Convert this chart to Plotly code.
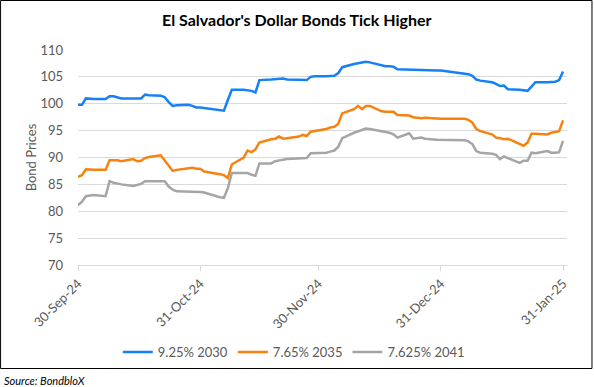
import plotly.graph_objects as go

dates = [
    "2024-09-30", "2024-10-01", "2024-10-02", "2024-10-03", "2024-10-04",
    "2024-10-07", "2024-10-08", "2024-10-09", "2024-10-10", "2024-10-11",
    "2024-10-14", "2024-10-15", "2024-10-16", "2024-10-17", "2024-10-18",
    "2024-10-21", "2024-10-22", "2024-10-23", "2024-10-24", "2024-10-25",
    "2024-10-28", "2024-10-29", "2024-10-30", "2024-10-31", "2024-11-01",
    "2024-11-04", "2024-11-05", "2024-11-06", "2024-11-07", "2024-11-08",
    "2024-11-11", "2024-11-12", "2024-11-13", "2024-11-14", "2024-11-15",
    "2024-11-18", "2024-11-19", "2024-11-20", "2024-11-21", "2024-11-22",
    "2024-11-25", "2024-11-26", "2024-11-27", "2024-11-28", "2024-11-29",
    "2024-12-02", "2024-12-03", "2024-12-04", "2024-12-05", "2024-12-06",
    "2024-12-09", "2024-12-10", "2024-12-11", "2024-12-12", "2024-12-13",
    "2024-12-16", "2024-12-17", "2024-12-18", "2024-12-19", "2024-12-20",
    "2024-12-23", "2024-12-24", "2024-12-26", "2024-12-27",
    "2024-12-30", "2024-12-31", "2025-01-02", "2025-01-03",
    "2025-01-06", "2025-01-07", "2025-01-08", "2025-01-09", "2025-01-10",
    "2025-01-13", "2025-01-14", "2025-01-15", "2025-01-16", "2025-01-17",
    "2025-01-20", "2025-01-21", "2025-01-22", "2025-01-23", "2025-01-24",
    "2025-01-27", "2025-01-28", "2025-01-29", "2025-01-30", "2025-01-31",
]

bond_2030 = [
    99.8, 99.8, 101.0, 100.9, 100.9,
    100.9, 101.4, 101.4, 101.2, 101.0,
    101.0, 101.0, 101.0, 101.7, 101.6,
    101.5, 101.2, 100.3, 99.6, 99.7,
    99.8, 99.6, 99.3, 99.3, 99.2,
    99.0, 98.9, 98.7, 100.7, 102.6,
    102.6, 102.5, 102.4, 102.1, 104.4,
    104.5, 104.6, 104.6, 104.7, 104.5,
    104.5, 104.5, 104.4, 105.0, 105.1,
    105.1, 105.2, 105.2, 105.7, 106.8,
    107.4, 107.5, 107.6, 107.8, 107.7,
    107.1, 107.0, 107.0, 106.9, 106.4,
    106.3, 106.3, 106.3, 106.3,
    106.2, 106.2, 106.0, 105.8,
    105.6, 105.5, 105.2, 104.5, 104.3,
    104.0, 103.7, 103.3, 103.4, 102.7,
    102.6, 102.5, 102.4, 103.2, 104.0,
    104.0, 104.0, 104.1, 104.4, 106.0,
]

bond_2035 = [
    86.4, 86.7, 87.8, 87.7, 87.7,
    87.7, 89.5, 89.5, 89.5, 89.3,
    89.7, 89.3, 89.4, 89.9, 90.1,
    90.4, 89.5, 88.5, 87.5, 87.7,
    88.0, 88.1, 87.9, 87.9, 87.4,
    87.1, 86.9, 86.7, 86.2, 88.7,
    90.0, 91.3, 91.0, 91.5, 92.8,
    93.4, 93.5, 93.9, 93.5, 93.6,
    93.9, 94.2, 94.0, 94.8, 94.9,
    95.3, 95.6, 95.7, 96.3, 98.2,
    99.0, 99.6, 99.0, 99.6, 99.6,
    98.6, 98.5, 98.5, 98.5, 97.9,
    97.8, 97.5, 97.3, 97.4,
    97.2, 97.2, 97.2, 97.2,
    97.2, 97.0, 96.5, 95.3, 94.9,
    94.3, 93.7, 93.6, 93.4, 93.5,
    92.5, 92.2, 92.8, 94.4, 94.4,
    94.3, 94.6, 94.8, 94.9, 96.9,
]

bond_2041 = [
    81.1, 81.8, 82.8, 82.9, 83.0,
    82.8, 85.6, 85.3, 85.1, 85.0,
    84.7, 84.9, 85.1, 85.6, 85.6,
    85.6, 85.6, 84.6, 84.0, 83.7,
    83.7, 83.6, 83.7, 83.6, 83.5,
    82.8, 82.6, 82.5, 84.3, 87.1,
    87.1, 87.1, 86.8, 86.6, 88.9,
    88.9, 89.3, 89.5, 89.6, 89.7,
    89.8, 89.9, 89.9, 90.8, 90.8,
    90.9, 91.1, 91.3, 92.0, 93.6,
    94.6, 94.9, 95.2, 95.4, 95.3,
    94.9, 94.8, 94.6, 94.3, 93.7,
    94.5, 93.5, 93.7, 93.5,
    93.3, 93.3, 93.2, 93.2,
    93.2, 93.0, 92.5, 91.2, 90.9,
    90.7, 90.5, 89.7, 90.2, 89.9,
    89.0, 89.4, 89.4, 90.9, 90.8,
    91.2, 90.9, 90.9, 91.0, 93.1,
]

series_names = ["9.25% 2030", "7.65% 2035", "7.625% 2041"]
series_colors = ["#1580F7", "#F7820F", "#A5A5A5"]

tick_dates = ["2024-09-30", "2024-10-31", "2024-11-30", "2024-12-31", "2025-01-31"]
tick_labels = ["30-Sep-24", "31-Oct-24", "30-Nov-24", "31-Dec-24", "31-Jan-25"]
y_ticks = [70, 75, 80, 85, 90, 95, 100, 105, 110]

FONT = "Lato"
GREY_TXT = "#595959"

fig = go.Figure()
for name, vals, col in zip(series_names, [bond_2030, bond_2035, bond_2041], series_colors):
    fig.add_trace(go.Scatter(x=dates, y=vals, mode="lines", name=name,
                             line=dict(color=col, width=2.5)))

# plot area: x 78..567.5 px, y 50..265 px
L, R, T, B = 78, 594 - 567.5, 50, 387 - 265
pw = 594 - L - R
ph = 387 - T - B

def px_x(p):
    return (p - L) / pw

def px_y(p):
    return (387 - B - p) / ph

fig.update_layout(
    width=594, height=387,
    margin=dict(l=L, r=R, t=T, b=B),
    paper_bgcolor="white", plot_bgcolor="white",
    font=dict(family=FONT, size=13, color=GREY_TXT),
    showlegend=True,
    legend=dict(orientation="h", x=px_x(294), xanchor="center",
                y=px_y(352), yanchor="middle",
                font=dict(family=FONT, size=13, color=GREY_TXT),
                itemwidth=30, tracegroupgap=0),
    xaxis=dict(type="date", range=["2024-09-30", "2025-02-01"],
               tickvals=tick_dates, ticktext=tick_labels, tickangle=-45,
               showgrid=False, showline=True, linecolor="#D9D9D9", linewidth=1,
               ticks="outside", ticklen=5, tickcolor="#D9D9D9",
               tickfont=dict(family=FONT, size=13, color=GREY_TXT)),
    yaxis=dict(range=[70, 110], tickvals=y_ticks, showgrid=True,
               gridcolor="#D9D9D9", gridwidth=1, zeroline=False, showline=False,
               ticks="", ticklabelstandoff=14,
               tickfont=dict(family=FONT, size=13, color=GREY_TXT),
               title=dict(text="Bond Prices", standoff=0,
                          font=dict(family=FONT, size=13, color=GREY_TXT))),
    annotations=[
        dict(text="<b>El Salvador's Dollar Bonds Tick Higher</b>", xref="paper", yref="paper",
             x=px_x(297), y=px_y(20), xanchor="center", yanchor="middle", showarrow=False,
             font=dict(family=FONT, size=16, color="#000000")),
        dict(text="<i>Source: BondbloX</i>", xref="paper", yref="paper",
             x=px_x(2), y=px_y(380), xanchor="left", yanchor="middle", showarrow=False,
             font=dict(family=FONT, size=11, color="#000000")),
    ],
    shapes=[
        dict(type="rect", xref="paper", yref="paper",
             x0=px_x(0.5), x1=px_x(592.5), y0=px_y(0.5), y1=px_y(368.5),
             line=dict(color="#000000", width=1), fillcolor="rgba(0,0,0,0)", layer="below"),
    ],
)

fig.write_html("out.html", config={"displayModeBar": False},
               post_script="document.body.style.margin='0';document.body.style.padding='0';")
